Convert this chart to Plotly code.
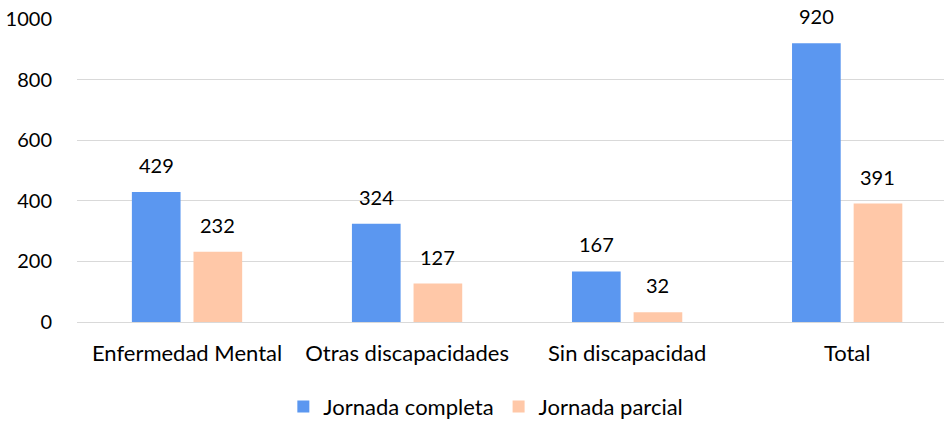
import plotly.graph_objects as go

categories = ["Enfermedad Mental", "Otras discapacidades", "Sin discapacidad", "Total"]
completa = [429, 324, 167, 920]
parcial = [232, 127, 32, 391]
series_names = ["Jornada completa", "Jornada parcial"]
y_ticks = [0, 200, 400, 600, 800, 1000]

FONT = "Lato, Carlito, Calibri, sans-serif"
colors = ["#5B97F0", "#FFC8A8"]
BARGAP = 0.44

fig = go.Figure()
for name, vals, col in zip(series_names, [completa, parcial], colors):
    fig.add_trace(go.Bar(x=list(range(len(categories))), y=vals, name=name,
                         marker=dict(color=col, line=dict(width=0))))

# value labels above the bars
slot = (1 - BARGAP) / 2
for k, vals in enumerate([completa, parcial]):
    off = -slot / 2 if k == 0 else slot / 2
    for i, v in enumerate(vals):
        fig.add_annotation(x=i + off, y=v, text=str(v), showarrow=False,
                           xref="x", yref="y", yanchor="bottom", yshift=13,
                           font=dict(size=20, color="#000000", family=FONT))

fig.update_layout(
    width=944, height=421,
    margin=dict(l=77, r=0, t=19, b=99, autoexpand=False),
    paper_bgcolor="white", plot_bgcolor="white",
    barmode="group", bargap=BARGAP, bargroupgap=0.21,
    font=dict(family=FONT, size=22, color="#000000"),
    showlegend=True,
    legend=dict(orientation="h", x=0.238, xanchor="left", y=-0.21, yanchor="top",
                font=dict(size=22), traceorder="normal"),
)
fig.update_xaxes(showgrid=False, showline=True, linecolor="#D9D9D9", linewidth=1,
                 ticks="", ticklabelstandoff=12, tickfont=dict(size=22), automargin=False,
                 tickmode="array", tickvals=list(range(len(categories))), ticktext=categories,
                 range=[-0.5, 3.44])
fig.update_yaxes(range=[0, 1000], tickvals=y_ticks, showgrid=True, gridcolor="#D9D9D9",
                 gridwidth=1, zeroline=False, showline=False, ticks="",
                 ticklabelstandoff=24, tickfont=dict(size=20), automargin=False)

fig.write_html("out.html", config={"displayModeBar": False},
               post_script="document.body.style.margin='0';document.body.style.overflow='hidden';")
